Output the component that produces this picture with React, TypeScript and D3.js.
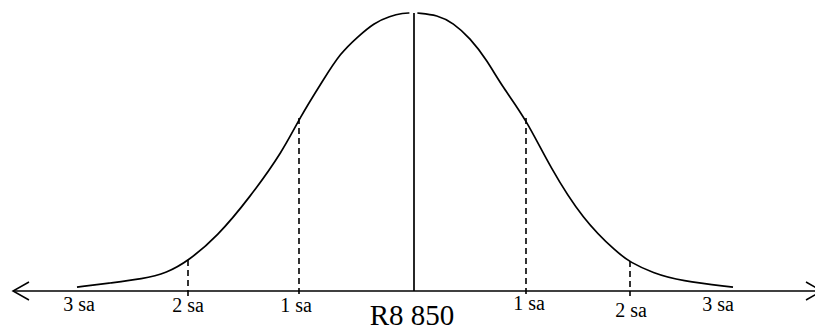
import React from "react";
import * as d3 from "d3";

// ---- data ----
const sdSteps = [-3, -2, -1, 0, 1, 2, 3];
const leftZ = [-3, -2.7, -2.41, -2.19, -2, -1.74, -1.44, -1.14, -1, -0.79, -0.64, -0.49, -0.35, -0.21, -0.09, -0.04];
const leftDensity = [0.014, 0.029, 0.043, 0.065, 0.108, 0.194, 0.338, 0.507, 0.619, 0.759, 0.856, 0.914, 0.964, 0.989, 1.0, 1.0];
const rightZ = [0.03, 0.21, 0.35, 0.5, 0.65, 0.79, 1, 1.23, 1.55, 1.88, 2, 2.22, 2.49, 3];
const rightDensity = [1.0, 0.993, 0.964, 0.91, 0.831, 0.734, 0.619, 0.446, 0.255, 0.137, 0.104, 0.065, 0.036, 0.014];
const dashedZ = [-2, -1, 1, 2];
const tickZ = [-3, -2, -1, 1, 2, 3];
const tickLabels = ["3 sa", "2 sa", "1 sa", "1 sa", "2 sa", "3 sa"];
const meanLabel = "R8 850";

// ---- layout ----
const W = 815;
const H = 330;
const axisY = 291;
const topY = 13;
const labelDx = [2, 0, -3, 3, 1, -15];
const labelBaseline = [311, 312, 312, 310, 317, 311];
const font = "'Liberation Serif', 'Times New Roman', serif";

const x = d3.scaleLinear().domain(sdSteps).range([77, 188, 299, 414, 526, 630, 733]);
const y = d3.scaleLinear().domain([0, 1]).range([axisY, topY]);

const line = d3
  .line<[number, number]>()
  .x((d) => x(d[0]))
  .y((d) => y(d[1]))
  .curve(d3.curveBasis);

const leftPts: [number, number][] = leftZ.map((z, i) => [z, leftDensity[i]]);
const rightPts: [number, number][] = rightZ.map((z, i) => [z, rightDensity[i]]);

function densityAt(z: number): number {
  const li = leftZ.indexOf(z);
  if (li >= 0) return leftDensity[li];
  const ri = rightZ.indexOf(z);
  if (ri >= 0) return rightDensity[ri];
  return 0;
}

export default function App() {
  return (
    <svg
      width={W}
      height={H}
      viewBox={`0 0 ${W} ${H}`}
      style={{ position: "fixed", left: 0, top: 0, background: "#fff" }}
    >
      <rect x={0} y={0} width={W} height={H} fill="#fff" />
      {/* axis */}
      <line x1={13} x2={W} y1={axisY} y2={axisY} stroke="#000" strokeWidth={1.5} />
      <polyline points={`29,282 13,${axisY} 29,300`} fill="none" stroke="#000" strokeWidth={1.5} />
      <polyline points={`806,282 822,${axisY} 806,300`} fill="none" stroke="#000" strokeWidth={1.5} />
      {/* curve */}
      <path d={line(leftPts) || ""} fill="none" stroke="#000" strokeWidth={1.7} />
      <path d={line(rightPts) || ""} fill="none" stroke="#000" strokeWidth={1.7} />
      {/* mean line */}
      <line x1={x(0)} x2={x(0)} y1={y(1)} y2={axisY} stroke="#000" strokeWidth={1.7} />
      {/* dashed sd lines */}
      {dashedZ.map((z) => (
        <line
          key={z}
          x1={x(z)}
          x2={x(z)}
          y1={y(densityAt(z)) - 1}
          y2={axisY + 5}
          stroke="#000"
          strokeWidth={1.6}
          strokeDasharray="6,4"
        />
      ))}
      {/* labels */}
      {tickZ.map((z, i) => (
        <text
          key={i}
          x={x(z) + labelDx[i]}
          y={labelBaseline[i]}
          textAnchor="middle"
          fontFamily={font}
          fontSize={20}
          fill="#000"
        >
          {tickLabels[i]}
        </text>
      ))}
      <text x={x(0) - 2} y={325} textAnchor="middle" fontFamily={font} fontSize={29} fill="#000">
        {meanLabel}
      </text>
    </svg>
  );
}
